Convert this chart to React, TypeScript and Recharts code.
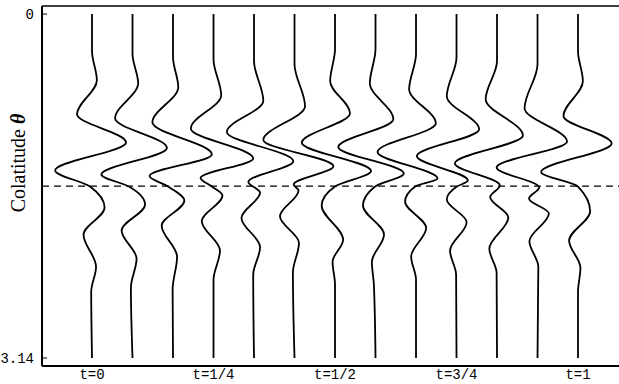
import React from 'react';
import { LineChart, Line, XAxis, YAxis, ReferenceLine } from 'recharts';

// Each trace: [colatitude θ (rad), deflection in units of the trace spacing]
const trace0 = [[0, 0], [0.339, 0], [0.604, 0.12], [0.915, -0.37], [1.172, 0.84], [1.428, -0.91], [1.575, -0.05], [1.767, 0.31], [2.014, -0.21], [2.307, 0.1], [2.536, -0.02], [3.14, 0]];
const trace1 = [[0, 0], [0.366, 0], [0.632, 0.14], [0.952, -0.43], [1.222, 0.85], [1.465, -0.77], [1.575, -0.09], [1.739, 0.31], [1.977, -0.27], [2.234, 0.1], [2.499, -0.04], [3.14, 0]];
const trace2 = [[0, 0], [0.394, 0], [0.668, 0.13], [0.989, -0.51], [1.282, 0.96], [1.478, -0.58], [1.575, -0.12], [1.703, 0.28], [1.932, -0.28], [2.215, 0.1], [2.517, -0.01], [3.14, 0]];
const trace3 = [[0, 0], [0.412, 0], [0.742, 0.19], [1.044, -0.56], [1.318, 0.98], [1.497, -0.32], [1.575, -0.04], [1.657, 0.22], [1.892, -0.29], [2.16, 0.16], [2.426, 0], [3.14, 0]];
const trace4 = [[0, 0], [0.43, 0], [0.792, 0.23], [1.076, -0.67], [1.343, 0.97], [1.533, -0.14], [1.63, 0.15], [1.861, -0.31], [2.128, 0.15], [2.38, -0.02], [3.14, 0]];
const trace5 = [[0, 0], [0.458, 0], [0.842, 0.26], [1.149, -0.77], [1.389, 0.96], [1.556, -0.02], [1.611, 0.1], [1.847, -0.36], [2.09, 0.11], [2.362, -0.04], [3.14, 0]];
const trace6 = [[0, 0], [0.32, 0], [0.613, -0.12], [0.906, 0.37], [1.175, -0.82], [1.433, 0.89], [1.575, 0], [1.749, -0.33], [2.06, 0.2], [2.261, -0.06], [2.472, 0], [3.14, 0]];
const trace7 = [[0, 0], [0.32, 0], [0.632, -0.14], [0.961, 0.44], [1.213, -0.92], [1.456, 0.7], [1.575, -0.01], [1.749, -0.31], [2.014, 0.21], [2.261, -0.09], [2.472, -0.04], [3.14, 0]];
const trace8 = [[0, 0], [0.366, 0], [0.687, -0.17], [0.998, 0.49], [1.259, -0.95], [1.501, 0.53], [1.575, -0.02], [1.712, -0.27], [1.953, 0.25], [2.213, -0.12], [2.426, 0], [3.14, 0]];
const trace9 = [[0, 0], [0.394, 0], [0.751, -0.24], [1.053, 0.56], [1.297, -0.98], [1.52, 0.28], [1.575, 0.01], [1.694, -0.24], [1.9, 0.25], [2.16, -0.16], [2.38, -0.01], [3.14, 0]];
const trace10 = [[0, 0], [0.43, 0], [0.778, -0.28], [1.108, 0.64], [1.364, -1.04], [1.565, 0.07], [1.671, -0.17], [1.858, 0.28], [2.142, -0.19], [2.362, -0.01], [3.14, 0]];
const trace11 = [[0, 0], [0.458, 0], [0.861, -0.32], [1.163, 0.73], [1.401, -1.01], [1.584, 0.04], [1.684, -0.21], [1.822, 0.28], [2.075, -0.2], [2.307, 0.02], [3.14, 0]];
const trace12 = [[0, 0], [0.339, 0], [0.613, 0.12], [0.931, -0.36], [1.181, 0.83], [1.442, -0.91], [1.575, 0], [1.801, 0.3], [2.069, -0.22], [2.316, 0.06], [2.536, 0], [3.14, 0]];

const traces = [trace0, trace1, trace2, trace3, trace4, trace5, trace6, trace7, trace8, trace9, trace10, trace11, trace12];

const traceIndices = [0, 1, 2, 3, 4, 5, 6, 7, 8, 9, 10, 11, 12];
const xTickPositions = [0, 3, 6, 9, 12];
const xTickLabels = ['t=0', 't=1/4', 't=1/2', 't=3/4', 't=1'];
const yTickValues = [0, 3.14];
const yTickLabels = ['0', '3.14'];
const equatorTheta = 1.5708;
const yAxisTitle = 'Colatitude ';
const yAxisSymbol = 'θ';

const X_DOMAIN: [number, number] = [-1.235, 13.012];
const Y_DOMAIN: [number, number] = [-0.0732, 3.2132];

const seriesData = traces.map((tr, k) => tr.map(([theta, d]) => ({ theta, x: traceIndices[k] + d })));

const mono = "'Liberation Mono', 'DejaVu Sans Mono', monospace";
const serif = "'Liberation Serif', 'Times New Roman', serif";

function LeftTick(props: any) {
  const { x, y, payload } = props;
  const i = yTickValues.indexOf(payload.value);
  return (
    <g>
      <line x1={x + 8} x2={x + 13} y1={y} y2={y} stroke="#000" strokeWidth={1} />
      <text x={x} y={y} dy="0.36em" textAnchor="end" fontFamily={mono} fontSize={14} fill="#000">
        {yTickLabels[i]}
      </text>
    </g>
  );
}

export default function App() {
  return (
    <div style={{ position: 'absolute', left: 0, top: 0, width: 619, height: 384, background: '#fff' }}>
      <LineChart width={619} height={384} layout="vertical" margin={{ top: 6, right: 0, bottom: 0, left: 0 }}>
        <XAxis
          xAxisId="bottom"
          type="number"
          orientation="bottom"
          domain={X_DOMAIN}
          allowDataOverflow
          ticks={xTickPositions}
          interval={0}
          tickFormatter={(v: number) => xTickLabels[xTickPositions.indexOf(v)] ?? ''}
          height={18}
          tickLine={false}
          tickSize={2}
          tickMargin={1}
          axisLine={{ stroke: '#000', strokeWidth: 2 }}
          tick={{ fontFamily: mono, fontSize: 14, fill: '#000' }}
        />
        <XAxis
          xAxisId="top"
          type="number"
          orientation="top"
          domain={X_DOMAIN}
          allowDataOverflow
          ticks={traceIndices}
          interval={0}
          height={1}
          mirror
          tickSize={4}
          tick={false}
          tickLine={{ stroke: '#000', strokeWidth: 1 }}
          axisLine={{ stroke: '#000', strokeWidth: 1.5 }}
        />
        <YAxis
          yAxisId="left"
          type="number"
          dataKey="theta"
          domain={Y_DOMAIN}
          allowDataOverflow
          ticks={yTickValues}
          interval={0}
          width={42}
          tickSize={6}
          tickMargin={2}
          tickLine={false}
          tick={<LeftTick />}
          axisLine={{ stroke: '#000', strokeWidth: 2 }}
        />
        <ReferenceLine
          xAxisId="bottom"
          yAxisId="left"
          y={equatorTheta}
          stroke="#000"
          strokeWidth={1.2}
          strokeDasharray="7 5"
        />
        {seriesData.map((d, k) => (
          <Line
            key={k}
            xAxisId="bottom"
            yAxisId="left"
            data={d}
            dataKey="x"
            type="monotone"
            dot={false}
            activeDot={false}
            stroke="#000"
            strokeWidth={1.8}
            isAnimationActive={false}
          />
        ))}
      </LineChart>
      <svg width={619} height={384} style={{ position: 'absolute', left: 0, top: 0, pointerEvents: 'none' }}>
        <text transform="translate(25,163) rotate(-90)" textAnchor="middle" fontFamily={serif} fontSize={20} fill="#000">
          {yAxisTitle}
          <tspan fontStyle="italic" fontWeight="bold">{yAxisSymbol}</tspan>
        </text>
      </svg>
    </div>
  );
}
